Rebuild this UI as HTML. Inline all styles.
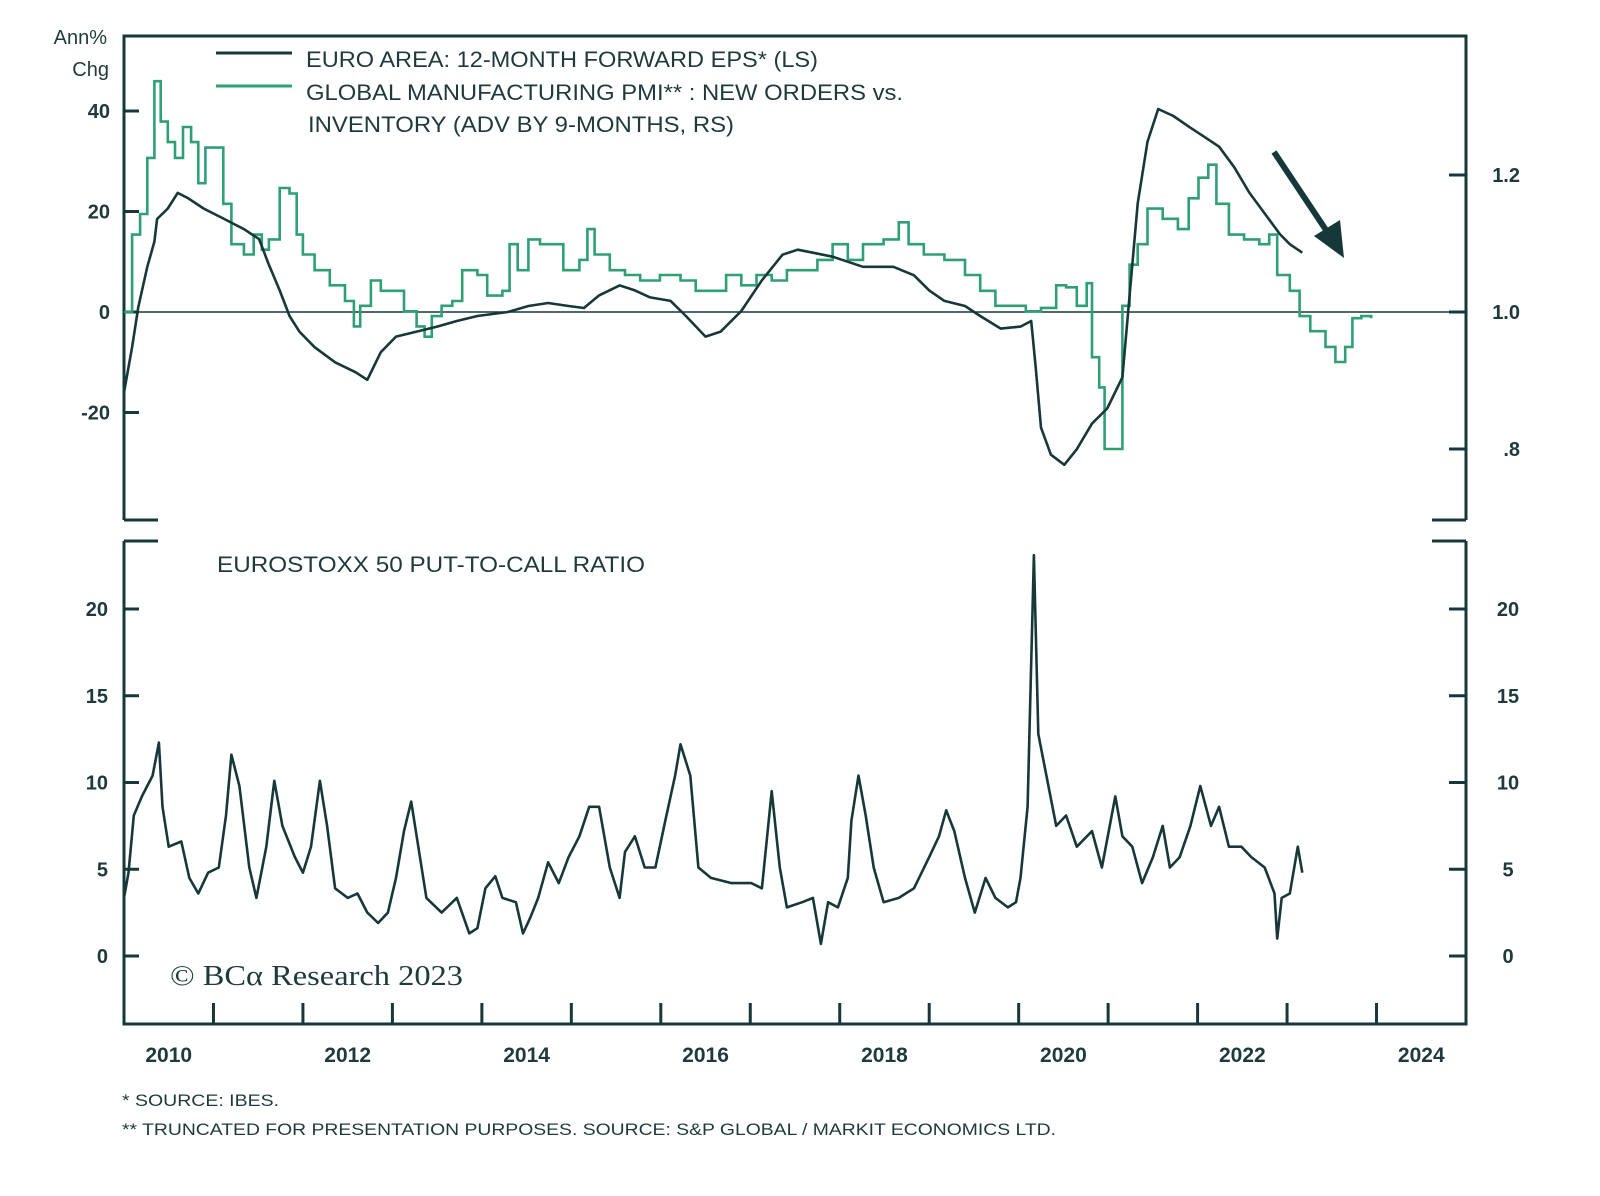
<!DOCTYPE html>
<html><head><meta charset="utf-8"><style>
html,body{margin:0;padding:0;background:#fff;}
svg{display:block;font-family:"Liberation Sans",sans-serif;}
</style></head><body>
<svg id="chart" width="1600" height="1196" viewBox="0 0 1600 1196" xmlns="http://www.w3.org/2000/svg"></svg>
<script>
// EPS (left axis, Ann% chg)
const epsYears=[2010.0,2010.09,2010.16,2010.26,2010.34,2010.37,2010.49,2010.6,2010.72,2010.89,2011.11,2011.34,2011.51,2011.62,2011.74,2011.85,2011.96,2012.13,2012.36,2012.59,2012.72,2012.87,2013.04,2013.27,2013.5,2013.72,2013.95,2014.29,2014.52,2014.74,2014.97,2015.14,2015.31,2015.54,2015.71,2015.88,2016.11,2016.28,2016.5,2016.67,2016.9,2017.13,2017.36,2017.53,2017.7,2017.92,2018.26,2018.6,2018.83,2019.0,2019.17,2019.4,2019.57,2019.8,2020.02,2020.14,2020.19,2020.25,2020.36,2020.51,2020.65,2020.82,2020.99,2021.16,2021.24,2021.33,2021.44,2021.56,2021.73,2021.9,2022.07,2022.24,2022.41,2022.58,2022.75,2022.92,2023.03,2023.17];
const epsValues=[-16,-7,1,9,14,18.5,20.6,23.7,22.6,20.6,18.6,16.5,14.5,9.4,4.3,-0.8,-3.9,-7,-10,-12,-13.5,-8,-4.9,-3.9,-2.9,-1.8,-0.8,0,1.2,1.8,1.2,0.8,3.3,5.3,4.3,2.9,2.2,-0.8,-4.9,-3.9,0.2,6.3,11.4,12.4,11.8,11,9,9,7.3,4.3,2.2,1.2,-0.8,-3.3,-2.9,-1.8,-11,-23,-28.4,-30.4,-27.3,-22.2,-19.2,-13,3.3,21.6,33.9,40.4,39,36.9,34.9,32.9,28.8,23.7,19.6,15.5,13.5,11.8];
// PMI new orders vs inventory (right axis)
const pmiYears=[2010.0,2010.09,2010.18,2010.26,2010.34,2010.41,2010.49,2010.57,2010.66,2010.75,2010.83,2010.91,2011.06,2011.11,2011.2,2011.34,2011.45,2011.54,2011.62,2011.74,2011.85,2011.93,2012.0,2012.13,2012.3,2012.47,2012.57,2012.64,2012.76,2012.87,2013.04,2013.13,2013.27,2013.36,2013.44,2013.55,2013.67,2013.78,2013.95,2014.06,2014.23,2014.31,2014.4,2014.52,2014.65,2014.8,2014.91,2015.09,2015.18,2015.26,2015.43,2015.6,2015.77,2015.99,2016.22,2016.39,2016.56,2016.73,2016.9,2017.07,2017.24,2017.41,2017.58,2017.75,2017.92,2018.09,2018.26,2018.49,2018.66,2018.77,2018.94,2019.17,2019.4,2019.57,2019.74,2019.91,2020.08,2020.25,2020.42,2020.53,2020.65,2020.76,2020.82,2020.9,2020.96,2021.1,2021.16,2021.24,2021.33,2021.44,2021.61,2021.78,2021.9,2022.01,2022.12,2022.21,2022.35,2022.52,2022.69,2022.8,2022.89,2023.03,2023.14,2023.26,2023.43,2023.54,2023.65,2023.73,2023.83,2023.94];
const pmiValues=[1.0,1.113,1.143,1.225,1.337,1.278,1.248,1.225,1.27,1.248,1.188,1.24,1.24,1.158,1.099,1.084,1.113,1.091,1.106,1.181,1.173,1.113,1.084,1.061,1.039,1.016,0.979,1.009,1.046,1.031,1.031,1.001,0.979,0.964,0.994,1.009,1.016,1.061,1.054,1.024,1.031,1.099,1.061,1.106,1.099,1.099,1.061,1.076,1.121,1.084,1.061,1.054,1.046,1.054,1.046,1.031,1.031,1.054,1.039,1.054,1.046,1.061,1.061,1.076,1.099,1.076,1.099,1.106,1.131,1.099,1.084,1.076,1.054,1.031,1.009,1.009,1.001,1.006,1.039,1.036,1.009,1.042,0.934,0.89,0.8,0.8,1.009,1.069,1.099,1.151,1.136,1.121,1.166,1.196,1.215,1.158,1.113,1.106,1.099,1.113,1.054,1.031,0.994,0.972,0.949,0.927,0.949,0.991,0.994,0.991];
// Eurostoxx 50 put-to-call ratio
const pcYears=[2010.0,2010.05,2010.11,2010.2,2010.32,2010.39,2010.43,2010.5,2010.64,2010.73,2010.83,2010.94,2011.06,2011.14,2011.2,2011.29,2011.4,2011.48,2011.59,2011.68,2011.77,2011.91,2012.0,2012.09,2012.19,2012.27,2012.36,2012.5,2012.61,2012.72,2012.84,2012.95,2013.04,2013.13,2013.21,2013.29,2013.38,2013.55,2013.72,2013.86,2013.95,2014.04,2014.15,2014.23,2014.38,2014.46,2014.54,2014.63,2014.74,2014.86,2014.97,2015.09,2015.2,2015.31,2015.43,2015.54,2015.6,2015.71,2015.82,2015.94,2016.05,2016.16,2016.22,2016.33,2016.42,2016.56,2016.79,2017.01,2017.13,2017.24,2017.33,2017.41,2017.58,2017.7,2017.79,2017.87,2017.98,2018.09,2018.13,2018.21,2018.29,2018.38,2018.49,2018.66,2018.83,2019.0,2019.11,2019.19,2019.28,2019.4,2019.51,2019.63,2019.74,2019.88,2019.97,2020.02,2020.1,2020.17,2020.22,2020.31,2020.42,2020.53,2020.65,2020.82,2020.93,2021.08,2021.16,2021.27,2021.38,2021.5,2021.61,2021.69,2021.8,2021.92,2022.03,2022.15,2022.24,2022.35,2022.49,2022.6,2022.75,2022.86,2022.89,2022.94,2023.03,2023.12,2023.17];
const pcValues=[3.35,4.8,8.1,9.2,10.4,12.3,8.6,6.3,6.6,4.5,3.6,4.8,5.1,8.1,11.6,9.8,5.1,3.35,6.3,10.1,7.5,5.7,4.8,6.3,10.1,7.5,3.9,3.35,3.6,2.5,1.9,2.5,4.5,7.2,8.9,6.3,3.35,2.5,3.35,1.3,1.6,3.9,4.6,3.35,3.1,1.3,2.2,3.35,5.4,4.2,5.7,6.9,8.6,8.6,5.1,3.35,6.0,6.9,5.1,5.1,7.8,10.4,12.2,10.4,5.1,4.5,4.2,4.2,3.9,9.5,5.1,2.8,3.1,3.35,0.7,3.1,2.8,4.5,7.8,10.4,8.1,5.1,3.1,3.35,3.9,5.7,6.9,8.4,7.2,4.5,2.5,4.5,3.35,2.8,3.1,4.5,8.6,23.1,12.8,10.4,7.5,8.1,6.3,7.2,5.1,9.2,6.9,6.3,4.2,5.7,7.5,5.1,5.7,7.5,9.8,7.5,8.6,6.3,6.3,5.7,5.1,3.6,1.0,3.35,3.6,6.3,4.8];
const yearLabels=["2010","2012","2014","2016","2018","2020","2022","2024"];
const leftTicks=[40,20,0,-20];
const rightTicks=[1.2,1.0,0.8];
const rightTickLabels=["1.2","1.0",".8"];
const lowerTicks=[0,5,10,15,20];

const NS="http://www.w3.org/2000/svg";
const svg=document.getElementById('chart');
const DARK="#173838", GREEN="#2f9f76", TXT="#1e3a3a";
const X0=124,X1=1466;
const xs=t=>X0+(t-2010)*(X1-X0)/15;
const yL=v=>312-v*5.025;
const yR=r=>312-(r-1)*685;
const yB=v=>956-v*17.35;
function el(tag,attrs,parent){const e=document.createElementNS(NS,tag);for(const k in attrs)e.setAttribute(k,attrs[k]);(parent||svg).appendChild(e);return e;}
function txt(s,x,y,size,anchor,extra){const e=el('text',Object.assign({x:x,y:y,'font-size':size,'text-anchor':anchor||'start',fill:TXT,'font-weight':'bold'},extra||{}));e.textContent=s;return e;}

const fr=el('g',{stroke:DARK,'stroke-width':3,fill:'none'});


el('path',{d:`M${X0},520 V36 H${X1} V520 M${X0},520 h34 M${X1},520 h-34`},fr);
el('path',{d:`M${X0},541 V1024 H${X1} V541 M${X0},541 h34 M${X1},541 h-34`},fr);
const zl=el('line',{x1:X0,x2:X1,y1:yL(0),y2:yL(0),stroke:DARK,'stroke-width':1.5});



leftTicks.forEach(v=>{
  el('line',{x1:X0,x2:X0+15,y1:yL(v),y2:yL(v),stroke:DARK,'stroke-width':3});
  const t=txt(String(v),110,yL(v)+7,20,'end');
  
  
});
rightTicks.forEach((r,i)=>{
  el('line',{x1:X1-17,x2:X1,y1:yR(r),y2:yR(r),stroke:DARK,'stroke-width':3});
  const t=txt(rightTickLabels[i],1520,yR(r)+7,20,'end');
  
  
});
lowerTicks.forEach(v=>{
  el('line',{x1:X0,x2:X0+15,y1:yB(v),y2:yB(v),stroke:DARK,'stroke-width':3});
  el('line',{x1:X1-17,x2:X1,y1:yB(v),y2:yB(v),stroke:DARK,'stroke-width':3});
  const a=txt(String(v),108,yB(v)+7,20,'end');
  
  
  const b=txt(String(v),1508,yB(v)+7,20,'middle');
  
  
});
for(let y=2011;y<=2024;y++){el('line',{x1:xs(y),x2:xs(y),y1:1024,y2:1003,stroke:DARK,'stroke-width':3});}
yearLabels.forEach(s=>{
  const t=txt(s,xs(+s+0.5),1062,21,'middle');
  
  
});
const a1=txt('Ann%',107,44,20,'end',{'font-weight':'normal'});


const a2=txt('Chg',109,76,20,'end',{'font-weight':'normal'});



function linePath(xsA,ysA,fx,fy){return xsA.map((t,i)=>(i?'L':'M')+fx(t).toFixed(1)+','+fy(ysA[i]).toFixed(1)).join(' ');}
function stepPath(xsA,ysA,fx,fy){let d='M'+fx(xsA[0]).toFixed(1)+','+fy(ysA[0]).toFixed(1);for(let i=1;i<xsA.length;i++){d+=' H'+fx(xsA[i]).toFixed(1)+' V'+fy(ysA[i]).toFixed(1);}return d;}
const pmi=el('path',{d:stepPath(pmiYears,pmiValues,xs,yR),stroke:GREEN,'stroke-width':2.6,fill:'none'});


const eps=el('path',{d:linePath(epsYears,epsValues,xs,yL),stroke:DARK,'stroke-width':2.6,fill:'none','stroke-linejoin':'round'});


const pc=el('path',{d:linePath(pcYears,pcValues,xs,yB),stroke:DARK,'stroke-width':2.6,fill:'none','stroke-linejoin':'round'});



const l1=el('line',{x1:216,x2:292,y1:53,y2:53,stroke:DARK,'stroke-width':3});


const l2=el('line',{x1:216,x2:292,y1:86,y2:86,stroke:GREEN,'stroke-width':3});


const fitOpts=(w)=>({'font-weight':'normal',textLength:w,lengthAdjust:'spacingAndGlyphs'});
const t1=txt('EURO AREA: 12-MONTH FORWARD EPS* (LS)',306,67,22,'start',fitOpts(512));


const t2=txt('GLOBAL MANUFACTURING PMI** : NEW ORDERS vs.',306,100,22,'start',fitOpts(597));


const t3=txt('INVENTORY (ADV BY 9-MONTHS, RS)',308,132,22,'start',fitOpts(426));


const t4=txt('EUROSTOXX 50 PUT-TO-CALL RATIO',217,572,22,'start',fitOpts(428));


const cp=txt('© BCα Research 2023',170,985,28,'start',{'font-weight':'normal','font-family':'Liberation Serif, serif',textLength:293,lengthAdjust:'spacingAndGlyphs'});


const f1=txt('*   SOURCE: IBES.',122,1106,17,'start',fitOpts(157));


const f2=txt('** TRUNCATED FOR PRESENTATION PURPOSES. SOURCE: S&P GLOBAL / MARKIT ECONOMICS LTD.',122,1135,17,'start',fitOpts(934));



const ar=el('g',{});


el('line',{x1:1274,y1:152,x2:1330,y2:236,stroke:DARK,'stroke-width':6},ar);
el('polygon',{points:'1344,258 1314,236 1340,220',fill:DARK},ar);
</script>
</body></html>
